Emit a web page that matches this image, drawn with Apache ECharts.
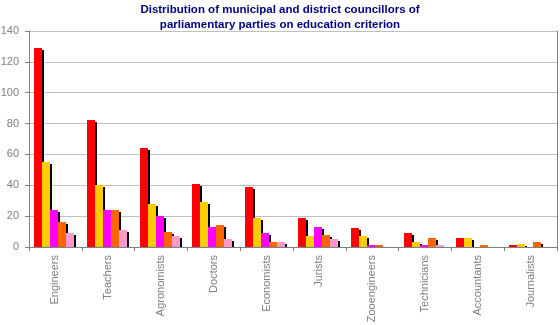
<!DOCTYPE html>
<html>
<head>
<meta charset="utf-8">
<script src="https://cdn.jsdelivr.net/npm/echarts@6/dist/echarts.min.js"></script>
<style>
  html, body { margin: 0; padding: 0; background: #ffffff; }
  #chart { width: 560px; height: 325px; }
</style>
</head>
<body>
<div id="chart"></div>
<script>
const titleText = 'Distribution of municipal and district councillors of\nparliamentary parties on education criterion';
const categories = ['Engineers', 'Teachers', 'Agronomists', 'Doctors', 'Economists', 'Jurists', 'Zooengineers', 'Technicians', 'Accountants', 'Journalists'];
const seriesRed     = [129, 82, 64, 41, 39, 19, 12, 9, 6, 1];
const seriesYellow  = [55, 40, 28, 29, 19, 7, 7, 3, 6, 2];
const seriesMagenta = [24, 24, 20, 13, 9, 13, 1, 1, 0, 0];
const seriesOrange  = [16, 24, 10, 14, 3, 8, 1, 6, 1, 3];
const seriesPink    = [9, 11, 7, 5, 3, 5, 0, 1, 0, 0];
const yTicks = [0, 20, 40, 60, 80, 100, 120, 140];

const seriesList = [seriesRed, seriesYellow, seriesMagenta, seriesOrange, seriesPink];
const colors = ['#FF0000', '#FFCC00', '#FF00FF', '#FF6600', '#FF99CC'];
const FONT = 'Liberation Sans';

function renderBar(params, api) {
  const catIdx = api.value(0);
  const val = api.value(1);
  if (!val) return null;
  const top = api.coord([catIdx, val]);
  const base = api.coord([catIdx, 0]);
  const band = api.size([1, 0])[0];
  const bw = Math.round(band * 8 / 52.8);
  const x = Math.round(top[0] - band / 2 + band * 5 / 52.8) + params.seriesIndex * bw;
  const yTop = Math.round(top[1]);
  const yBase = Math.round(base[1]);
  const h = yBase - yTop;
  const children = [];
  if (h > 2) {
    children.push({
      type: 'rect',
      shape: { x: x + bw, y: yTop + 2, width: 2, height: h - 2 },
      style: { fill: '#000000' }
    });
  }
  children.push({
    type: 'rect',
    shape: { x: x, y: yTop, width: bw, height: h },
    style: { fill: api.visual('color') }
  });
  return { type: 'group', children: children };
}

const chart = echarts.init(document.getElementById('chart'), null, { renderer: 'canvas' });
chart.setOption({
  animation: false,
  backgroundColor: '#ffffff',
  title: {
    text: titleText,
    left: 'center',
    top: -2,
    textStyle: {
      color: '#000080',
      fontFamily: FONT,
      fontWeight: 'bold',
      fontSize: 11.5,
      lineHeight: 14.5
    }
  },
  grid: { left: 29, right: 3, top: 31, bottom: 78, containLabel: false, outerBoundsMode: 'none' },
  xAxis: [{
    type: 'category',
    data: categories,
    boundaryGap: true,
    axisLine: { lineStyle: { color: '#808080', width: 1 } },
    axisTick: { show: true, length: 4, lineStyle: { color: '#808080' } },
    axisLabel: { rotate: 90, margin: 8, color: '#808080', fontFamily: FONT, fontSize: 11, interval: 0 },
    splitLine: { show: false }
  }, {
    type: 'category',
    data: categories,
    position: 'top',
    axisLine: { lineStyle: { color: '#808080', width: 1 } },
    axisTick: { show: false },
    axisLabel: { show: false },
    splitLine: { show: false }
  }],
  yAxis: [{
    type: 'value',
    min: yTicks[0],
    max: yTicks[yTicks.length - 1],
    interval: yTicks[1] - yTicks[0],
    axisLine: { show: true, lineStyle: { color: '#808080', width: 1 } },
    axisTick: { show: true, length: 4, lineStyle: { color: '#808080' } },
    axisLabel: { color: '#808080', fontFamily: FONT, fontSize: 11, margin: 10 },
    splitLine: { show: true, lineStyle: { color: '#C0C0C0', width: 1 } }
  }, {
    type: 'value',
    position: 'right',
    min: yTicks[0],
    max: yTicks[yTicks.length - 1],
    interval: yTicks[1] - yTicks[0],
    axisLine: { show: true, lineStyle: { color: '#808080', width: 1 } },
    axisTick: { show: false },
    axisLabel: { show: false },
    splitLine: { show: false }
  }],
  series: seriesList.map((arr, i) => ({
    type: 'custom',
    name: 'S' + (i + 1),
    xAxisIndex: 0,
    yAxisIndex: 0,
    color: colors[i],
    encode: { x: 0, y: 1 },
    data: arr.map((v, j) => [j, v]),
    renderItem: renderBar,
    z: 2
  }))
});
</script>
</body>
</html>
